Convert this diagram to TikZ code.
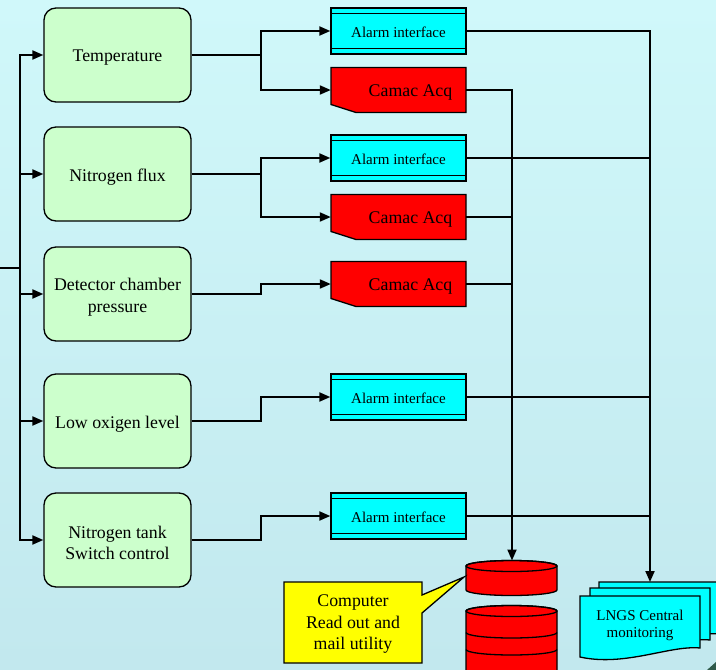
\documentclass[tikz,border=0pt]{standalone}
\usepackage{fontspec}
\setmainfont{Liberation Serif}
\usetikzlibrary{arrows.meta}
\definecolor{bgtop}{HTML}{D0F8FA}
\definecolor{bgbot}{HTML}{C2E8EE}
\definecolor{greenbox}{HTML}{CCFFCC}
\definecolor{aqua}{HTML}{00FFFF}
\definecolor{redbox}{HTML}{FF0000}
\definecolor{yellowbox}{HTML}{FFFF00}
\definecolor{darkcorner}{HTML}{2F5A4A}
\begin{document}
\begin{tikzpicture}[x=1pt,y=-1pt,
  conn/.style={line width=2pt, draw=black},
  arr/.style={conn, -{Triangle[length=11pt,width=9pt]}},
  bigfont/.style={font=\fontsize{17.8}{21.5}\selectfont},
  smallfont/.style={font=\fontsize{15}{17}\selectfont},
  gbox/.style={draw=black, line width=1.3pt, fill=greenbox, rounded corners=12pt,
    minimum width=147pt, minimum height=94pt, inner sep=0pt},
  gtext/.style={bigfont, align=center, inner sep=0pt},
  abox/.style={draw=black, line width=1.3pt, fill=aqua, minimum width=135pt,
    minimum height=46pt, inner sep=0pt},
  cshape/.style={draw=black, line width=1.3pt, fill=redbox},
  cbox/.style={minimum width=135pt, minimum height=45pt, inner sep=0pt},
  bline/.style={draw=black, line width=1.3pt}]
\useasboundingbox (0,0) rectangle (716,670);
\shade[top color=bgtop, bottom color=bgbot] (0,0) rectangle (716,670);
\fill[darkcorner] (707,670) -- (716,662) -- (716,670) -- cycle;

% green boxes
\node[gbox] (temp) at (117.5,55) {};
\node[gbox] (flux) at (117.5,174) {};
\node[gbox] (det)  at (117.5,294) {};
\node[gbox] (oxy)  at (117.5,421) {};
\node[gbox] (tank) at (117.5,540) {};
\node[gtext] (ttemp) at ([yshift=-3pt]temp.center) {Temperature};
\node[gtext] (tflux) at ([yshift=-3pt]flux.center) {Nitrogen flux};
\node[gtext] (tdet)  at ([yshift=-3pt]det.center) {Detector chamber\\pressure};
\node[gtext] (toxy)  at ([yshift=-3pt]oxy.center) {Low oxigen level};
\node[gtext] (ttank) at ([yshift=-3pt]tank.center) {Nitrogen tank\\Switch control};

% alarm interfaces
\node[abox] (a1) at (398.5,31) {};
\node[abox] (a2) at (398.5,158) {};
\node[abox] (a3) at (398.5,397) {};
\node[abox] (a4) at (398.5,516) {};
\foreach \n in {a1,a2,a3,a4} {
  \draw[bline] ([yshift=-6pt]\n.north west) -- ([yshift=-6pt]\n.north east);
  \draw[bline] ([yshift=6pt]\n.south west) -- ([yshift=6pt]\n.south east);
  \node[smallfont, inner sep=0pt] at ([yshift=-1.5pt]\n.center) {Alarm interface};
}

% camac acq
\foreach \y in {90,217,284}
  \filldraw[cshape] (331,\y-22.5) -- (466,\y-22.5) -- (466,\y+22.5) -- (356,\y+22.5) -- (331,\y+14.5) -- cycle;
\node[cbox] (c1) at (398.5,90) {};
\node[cbox] (c2) at (398.5,217) {};
\node[cbox] (c3) at (398.5,284) {};
\foreach \n in {c1,c2,c3}
  \node[bigfont, inner sep=0pt] at ([xshift=12pt,yshift=-2.5pt]\n.center) {Camac Acq};

% database
\filldraw[cshape] (466,611) -- (466,680) -- (557,680) -- (557,611) arc(0:180:45.5pt and 5.5pt) -- cycle;
\draw[bline] (511.5,611) ellipse (45.5pt and 5.5pt);
\draw[bline] (466,632.5) arc(180:360:45.5pt and 5.5pt);
\draw[bline] (466,649.5) arc(180:360:45.5pt and 5.5pt);
\filldraw[cshape] (466,566) -- (466,590) arc(180:360:45.5pt and 5.5pt) -- (557,566) arc(0:180:45.5pt and 5.5pt) -- cycle;
\draw[bline] (511.5,566) ellipse (45.5pt and 5.5pt);
\coordinate (db) at (512,560.5);

% callout
\filldraw[bline, fill=yellowbox] (284,582) -- (422,582) -- (422,595) -- (464,577) -- (422,613) -- (422,663) -- (284,663) -- cycle;
\node[bigfont, align=center, inner sep=0pt] (call) at (353,624.5) {Computer\\Read out and\\mail utility};

% LNGS documents
\foreach \dx/\dy in {19/-14,10/-8,0/0}
  \filldraw[bline, fill=aqua] (580+\dx,596+\dy) -- (700+\dx,596+\dy) -- (700+\dx,648+\dy)
    .. controls (670+\dx,645+\dy) and (625+\dx,667+\dy) .. (580+\dx,657+\dy) -- cycle;
\node[smallfont, align=center, inner sep=0pt] (lngs) at (640,625.5) {LNGS Central\\monitoring};
\coordinate (lngsTop) at (650,582);

% left bus
\coordinate (src) at (0,268);
\foreach \n in {temp,flux,det,oxy,tank}
  \draw[arr] (src) -- (20,268) |- (\n.west);

% green to acquisition
\draw[arr] (temp.east) -- ++(69,0) |- (a1.west);
\draw[arr] (temp.east) -- ++(69,0) |- (c1.west);
\draw[arr] (flux.east) -- ++(69,0) |- (a2.west);
\draw[arr] (flux.east) -- ++(69,0) |- (c2.west);
\draw[arr] (det.east) -- ++(69,0) |- (c3.west);
\draw[arr] (oxy.east) -- ++(69,0) |- (a3.west);
\draw[arr] (tank.east) -- ++(69,0) |- (a4.west);

% camac to database
\draw[arr] (c1.east) -| (db);
\draw[conn] (c2.east) -- (c2.east -| db);
\draw[conn] (c3.east) -- (c3.east -| db);

% alarms to LNGS
\draw[arr] (a1.east) -| (lngsTop);
\draw[conn] (a2.east) -- (a2.east -| lngsTop);
\draw[conn] (a3.east) -- (a3.east -| lngsTop);
\draw[conn] (a4.east) -- (a4.east -| lngsTop);
\end{tikzpicture}
\end{document}
